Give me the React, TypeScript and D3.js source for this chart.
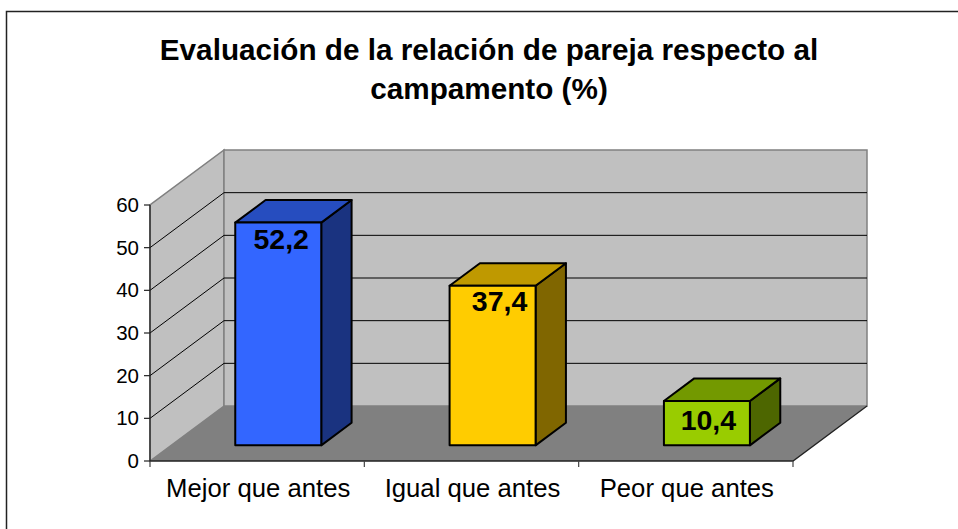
import React, { useEffect, useRef } from 'react';
import * as d3 from 'd3';

const categories = ['Mejor que antes', 'Igual que antes', 'Peor que antes'];
const values = [52.2, 37.4, 10.4];
const valueLabels = ['52,2', '37,4', '10,4'];
const yTicks = [0, 10, 20, 30, 40, 50, 60];
const titleLines = ['Evaluación de la relación de pareja respecto al', 'campamento (%)'];
const frontColors = ['#3366ff', '#ffcc00', '#99cc00'];
const topColors = ['#264dbf', '#bf9900', '#739900'];
const sideColors = ['#1a3380', '#806600', '#4d6600'];

const width = 958;
const height = 529;
const font = '"Liberation Sans", Arial, sans-serif';

const App = () => {
  const myRef = useRef<SVGSVGElement | null>(null);

  useEffect(() => {
    const svg = d3.select(myRef.current);
    svg.selectAll('*').remove();

    const x = d3.scaleBand<string>().domain(categories).range([150, 793]).paddingInner(0).paddingOuter(0);
    const y = d3.scaleLinear().domain([0, 60]).range([461, 205]);

    // full depth of the 3d box, and the bar's place inside it
    const depthX = 74;
    const depthY = -55;
    const barGap = 0.285;
    const barDepth = 0.41;
    const barWidth = 86;
    // the labels don't sit quite centred on the bars
    const labelShift = [[3, 26], [7, 25], [1.5, 29]];

    const poly = (pts: number[][]) => pts.map(p => p.join(',')).join(' ');
    const x0 = x.range()[0];
    const x1 = x.range()[1];
    const y0 = y(0);
    const yTop = y(60);

    // Chart frame
    svg.append('path')
      .attr('d', `M6.5,${height} V11.5 H${width}`)
      .attr('fill', 'none').attr('stroke', '#222').attr('stroke-width', 1.5);

    // Walls and floor
    svg.append('polygon')
      .attr('points', poly([[x0, y0], [x0, yTop], [x0 + depthX, yTop + depthY], [x0 + depthX, y0 + depthY]]))
      .attr('fill', '#c0c0c0').attr('stroke', '#808080').attr('stroke-width', 1.5);
    svg.append('rect')
      .attr('x', x0 + depthX).attr('y', yTop + depthY)
      .attr('width', x1 - x0).attr('height', y0 - yTop)
      .attr('fill', '#c0c0c0').attr('stroke', '#808080').attr('stroke-width', 1.5);
    svg.append('polygon')
      .attr('points', poly([[x0, y0], [x1, y0], [x1 + depthX, y0 + depthY], [x0 + depthX, y0 + depthY]]))
      .attr('fill', '#808080');

    // Gridlines over side and back wall
    yTicks.filter(t => t > 0 && t < 60).forEach(t => {
      const py = y(t);
      svg.append('path')
        .attr('d', `M${x0},${py} L${x0 + depthX},${py + depthY} H${x1 + depthX}`)
        .attr('fill', 'none').attr('stroke', '#000').attr('stroke-width', 1);
    });

    // Axes
    svg.append('path')
      .attr('d', `M${x0},${yTop} V${y0} H${x1} L${x1 + depthX},${y0 + depthY}`)
      .attr('fill', 'none').attr('stroke', '#222').attr('stroke-width', 1.3);
    yTicks.forEach(t => {
      svg.append('line')
        .attr('x1', x0 - 6).attr('x2', x0)
        .attr('y1', y(t)).attr('y2', y(t))
        .attr('stroke', '#222').attr('stroke-width', 1.2);
      svg.append('text')
        .attr('x', x0 - 11).attr('y', y(t) + 7)
        .attr('text-anchor', 'end')
        .attr('font-family', font).attr('font-size', 20.5).attr('fill', '#000')
        .text(t);
    });
    [...categories.map(c => x(c) as number), x1].forEach(px => {
      svg.append('line')
        .attr('x1', px).attr('x2', px)
        .attr('y1', y0).attr('y2', y0 + 6)
        .attr('stroke', '#444').attr('stroke-width', 1.2);
    });
    categories.forEach(c => {
      svg.append('text')
        .attr('x', (x(c) as number) + x.bandwidth() / 2 + 1).attr('y', 497)
        .attr('text-anchor', 'middle')
        .attr('font-family', font).attr('font-size', 25.7).attr('fill', '#000')
        .text(c);
    });

    // Bars
    categories.forEach((c, i) => {
      const cx = (x(c) as number) + x.bandwidth() / 2 + depthX * barGap;
      const l = cx - barWidth / 2;
      const r = cx + barWidth / 2;
      const b = y(0) + depthY * barGap;
      const t = y(values[i]) + depthY * barGap;
      const dx = depthX * barDepth;
      const dy = depthY * barDepth;
      const g = svg.append('g')
        .attr('stroke', '#000').attr('stroke-width', 2).attr('stroke-linejoin', 'round');
      g.append('polygon')
        .attr('points', poly([[r, b], [r + dx, b + dy], [r + dx, t + dy], [r, t]]))
        .attr('fill', sideColors[i]);
      g.append('polygon')
        .attr('points', poly([[l, t], [l + dx, t + dy], [r + dx, t + dy], [r, t]]))
        .attr('fill', topColors[i]);
      g.append('rect')
        .attr('x', l).attr('y', t)
        .attr('width', barWidth).attr('height', b - t)
        .attr('fill', frontColors[i]);
      svg.append('text')
        .attr('x', cx + labelShift[i][0]).attr('y', t + labelShift[i][1])
        .attr('text-anchor', 'middle')
        .attr('font-family', font).attr('font-size', 28.5).attr('font-weight', 'bold').attr('fill', '#000')
        .text(valueLabels[i]);
    });

    // Title
    titleLines.forEach((line, i) => {
      svg.append('text')
        .attr('x', 489).attr('y', 60 + i * 39)
        .attr('text-anchor', 'middle')
        .attr('font-family', font).attr('font-size', 29.7).attr('font-weight', 'bold').attr('fill', '#000')
        .text(line);
    });
  }, []);

  return (
    <svg
      ref={myRef}
      width={width}
      height={height}
      style={{ position: 'absolute', left: 0, top: 0, background: '#fff' }}
    />
  );
};

export default App;
